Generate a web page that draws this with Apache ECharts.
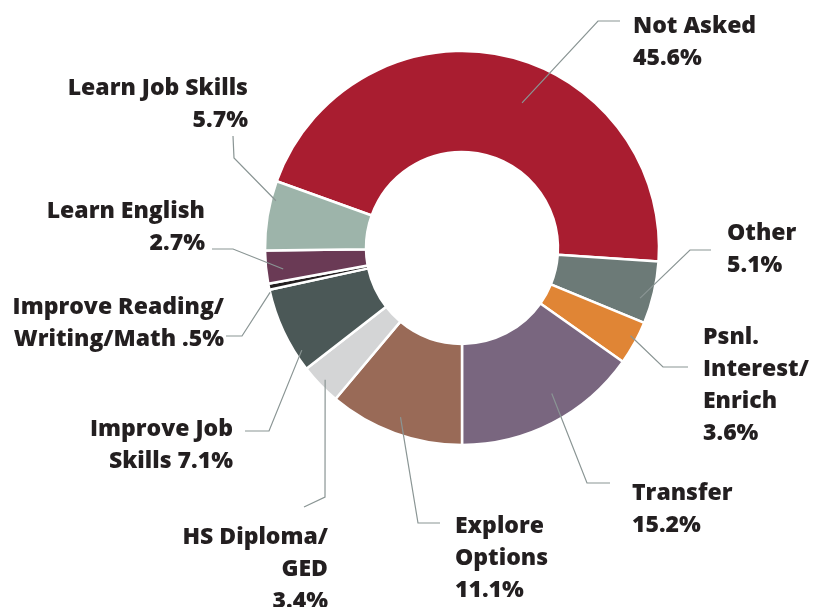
<!DOCTYPE html>
<html>
<head>
<meta charset="utf-8">
<script src="https://cdn.jsdelivr.net/npm/echarts@6/dist/echarts.min.js"></script>
<style>
  html, body { margin: 0; padding: 0; background: #fff; }
  #chart { width: 819px; height: 607px; }
</style>
</head>
<body>
<div id="chart"></div>
<script>
// data, clockwise from the top-left edge of "Not Asked"
const categories = ['Not Asked', 'Other', 'Psnl. Interest/Enrich', 'Transfer', 'Explore Options',
  'HS Diploma/GED', 'Improve Job Skills', 'Improve Reading/Writing/Math', 'Learn English', 'Learn Job Skills'];
const values = [45.6, 5.1, 3.6, 15.2, 11.1, 3.4, 7.1, 0.5, 2.7, 5.7];
const labelNames = ['Not Asked', 'Other', 'Psnl.\nInterest/\nEnrich', 'Transfer', 'Explore\nOptions',
  'HS Diploma/\nGED', 'Improve Job\nSkills', 'Improve Reading/\nWriting/Math', 'Learn English', 'Learn Job Skills'];
const nameBreak = ['\n', '\n', '\n', '\n', '\n', '\n', ' ', ' ', '\n', '\n'];
const colors = ['#a91d30', '#6c7a77', '#e08535', '#79667f', '#996a57',
  '#d4d5d6', '#4b5857', '#231f20', '#6a3a55', '#9db4aa'];

// layout (pixels)
const CX = 462, CY = 248, R0 = 96, R1 = 197, START = 160.2;
// label box: anchor x, top y, align ; leader: angle offset, radius, elbow, end
const labelPos = [
  { x: 633, y: 10, align: 'left', off: -10.6, r: 157, elbow: [598, 21], end: [620, 21] },
  { x: 727, y: 217, align: 'left', off: -2.6, r: 185, elbow: [690, 250], end: [711, 250] },
  { x: 703, y: 321, align: 'left', off: 1.3, r: 190, elbow: [663, 367], end: [688, 367] },
  { x: 632, y: 477, align: 'left', off: 4.3, r: 171, elbow: [587, 483], end: [610, 483] },
  { x: 455, y: 510, align: 'left', off: 0, r: 180, elbow: [418, 523], end: [440, 523] },
  { x: 328, y: 521, align: 'right', off: 0, r: 190, elbow: [325, 497], end: [304, 507] },
  { x: 233, y: 413, align: 'right', off: 7.5, r: 190, elbow: [269, 431], end: [245, 431] },
  { x: 224, y: 291, align: 'right', off: 1.7, r: 197, elbow: [242, 336], end: [226, 336] },
  { x: 205, y: 195, align: 'right', off: 1.1, r: 180, elbow: [233, 249], end: [212, 249] },
  { x: 248, y: 72, align: 'right', off: -4.7, r: 192, elbow: [234, 158], end: [233, 136] }
];

function pctText(v) {
  const s = v.toFixed(1) + '%';
  return v < 1 ? s.replace(/^0/, '') : s;
}

// mid angle of each slice, from the values
const total = values.reduce((a, b) => a + b, 0);
const midAngles = [];
let acc = START;
values.forEach(v => {
  const span = v / total * 360;
  midAngles.push(acc - span / 2);
  acc -= span;
});

const pieBase = {
  type: 'pie',
  center: [CX, CY],
  radius: [R0, R1],
  startAngle: START,
  clockwise: true,
  avoidLabelOverlap: false,
  emphasis: { disabled: true }
};

const myChart = echarts.init(document.getElementById('chart'));
const option = {
  animation: false,
  series: [
    // the slices
    Object.assign({}, pieBase, {
      z: 2,
      itemStyle: { borderColor: '#fff', borderWidth: 2.5 },
      label: { show: false },
      labelLine: { show: false },
      data: categories.map((c, i) => ({ name: c, value: values[i], itemStyle: { color: colors[i] } }))
    }),
    // same slices, transparent, carrying labels and leader lines above
    Object.assign({}, pieBase, {
      z: 3,
      silent: true,
      itemStyle: { color: 'rgba(0,0,0,0)', borderWidth: 0 },
      label: {
        show: true,
        position: 'outside',
        color: '#231f20',
        fontFamily: 'Open Sans',
        fontWeight: 800,
        fontSize: 23,
        lineHeight: 32,
        formatter: p => labelNames[p.dataIndex] + nameBreak[p.dataIndex] + pctText(p.value)
      },
      labelLine: {
        show: true,
        showAbove: true,
        lineStyle: { color: '#8a9594', width: 1.2 }
      },
      labelLayout: params => {
        const i = params.dataIndex;
        const lp = labelPos[i];
        const a = (midAngles[i] + lp.off) * Math.PI / 180;
        const start = [CX + lp.r * Math.cos(a), CY - lp.r * Math.sin(a)];
        return {
          x: lp.x,
          y: lp.y,
          align: lp.align,
          verticalAlign: 'top',
          labelLinePoints: [start, lp.elbow, lp.end]
        };
      },
      data: categories.map((c, i) => ({ name: c, value: values[i] }))
    })
  ]
};
myChart.setOption(option);
</script>
</body>
</html>
